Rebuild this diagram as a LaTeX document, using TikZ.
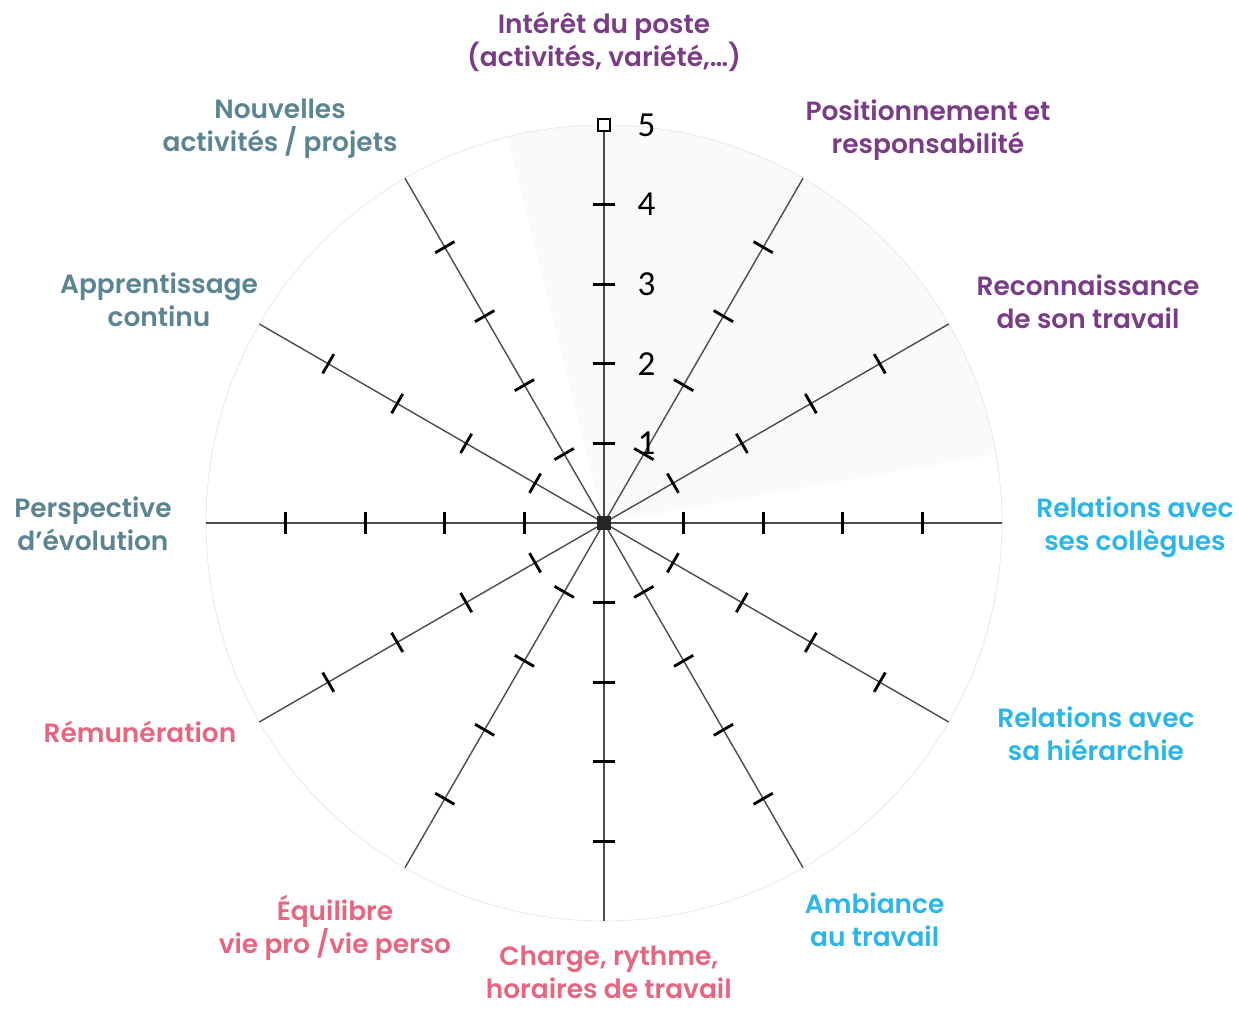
\documentclass[tikz,border=0pt]{standalone}
\usepackage{fontspec}
\setmainfont{Poppins}[UprightFont=* SemiBold]
\newfontfamily\numfont{Carlito}
\usetikzlibrary{calc}
\definecolor{violet}{HTML}{7A3B87}
\definecolor{bleu}{HTML}{2CB5E9}
\definecolor{rose}{HTML}{E8657F}
\definecolor{ardoise}{HTML}{5B8592}

\begin{document}
\begin{tikzpicture}[x=1.99cm, y=1.99cm,
  spoke/.style={black!70, line width=1pt},
  tick/.style={black, line width=2pt},
  lab/.style={align=center, font=\fontsize{18.8}{23.5}\selectfont, inner sep=0pt},
  num/.style={font=\numfont\fontsize{25}{25}\selectfont, anchor=west, inner sep=0pt}]
\useasboundingbox (-7.588,-6.106) rectangle (7.977,6.570);
% fond
\fill[black!2] (0,0) -- (10:5) arc (10:104:5) -- cycle;
\draw[black!12, line width=.4pt] (0,0) circle (5);
% rayons et graduations
\foreach \a in {0,30,...,330} {
 \draw[spoke] (0,0)--(\a:5);
 \foreach \r in {1,2,3,4}
  \draw[tick] ($(\a:\r)+(\a+90:.14)$)--($(\a:\r)+(\a-90:.14)$);
}
\node[draw=black, fill=white, line width=.8pt, minimum size=.3cm, inner sep=0pt] (top) at (0,5) {};
\node[fill=black!85, minimum size=.35cm, inner sep=0pt] (centre) at (0,0) {};
\foreach \r in {1,...,5}
 \node[num] (n\r) at (.42,\r) {\r};
% libelles
\node[lab, text=violet] (interet) at (0,6.04) {Intérêt du poste\\(activités, variété,…)};
\node[lab, text=violet] (position) at (4.07,4.94) {Positionnement et\\responsabilité};
\node[lab, text=violet] (reconn) at (6.08,2.78) {Reconnaissance\\de son travail};
\node[lab, text=bleu] (collegues) at (6.67,-.05) {Relations avec\\ses collègues};
\node[lab, text=bleu] (hierarchie) at (6.18,-2.65) {Relations avec\\sa hiérarchie};
\node[lab, text=bleu] (ambiance) at (3.40,-4.99) {Ambiance\\au travail};
\node[lab, text=rose] (charge) at (.06,-5.64) {Charge, rythme,\\horaires de travail};
\node[lab, text=rose] (equilibre) at (-3.38,-5.09) {Équilibre\\vie pro /vie perso};
\node[lab, text=rose] (remun) at (-5.83,-2.63) {Rémunération};
\node[lab, text=ardoise] (perspective) at (-6.42,-.01) {Perspective\\d’évolution};
\node[lab, text=ardoise] (apprent) at (-5.59,2.80) {Apprentissage\\continu};
\node[lab, text=ardoise] (nouvelles) at (-4.07,4.95) {Nouvelles\\activités / projets};
\end{tikzpicture}
\end{document}
